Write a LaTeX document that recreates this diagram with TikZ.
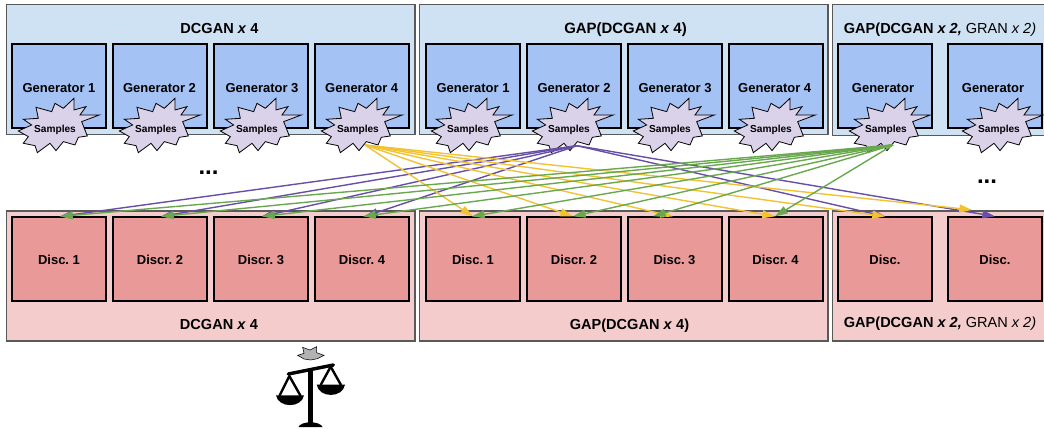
\documentclass[tikz,border=0pt]{standalone}
\usepackage{fontspec}
\setmainfont{Liberation Sans}
\usetikzlibrary{arrows.meta,calc}
\frenchspacing
\definecolor{panelblue}{HTML}{CFE2F3}
\definecolor{genblue}{HTML}{A4C2F4}
\definecolor{panelpink}{HTML}{F4CCCC}
\definecolor{discred}{HTML}{EA9999}
\definecolor{burstlilac}{HTML}{D9D2E9}
\definecolor{edgegray}{HTML}{595959}
\definecolor{linkpurple}{HTML}{674EA7}
\definecolor{linkgold}{HTML}{F1C232}
\definecolor{linkgreen}{HTML}{6AA84F}
\tikzset{
  panelbox/.style={draw=edgegray,line width=0.9pt,inner sep=0pt},
  genbox/.style={draw=black,line width=1.5pt,fill=genblue,minimum width=70.5pt,minimum height=63.2pt,inner sep=0pt},
  discbox/.style={draw=black,line width=1.5pt,fill=discred,minimum width=70.5pt,minimum height=62.7pt,inner sep=0pt},
  boxlabel/.style={font=\bfseries\fontsize{9.75pt}{11pt}\selectfont,anchor=base,inner sep=0pt},
  titlelabel/.style={font=\fontsize{10.9pt}{12pt}\selectfont,anchor=base,inner sep=0pt},
  samplabel/.style={font=\bfseries\fontsize{7.6pt}{9pt}\selectfont,anchor=base,inner sep=0pt},
  dotlabel/.style={font=\bfseries\fontsize{18pt}{20pt}\selectfont,anchor=base,inner sep=0pt},
  link/.style={line width=1.05pt,-{Triangle[length=9.5pt,width=6pt]}},
  burst/.pic={
    \draw[x=.25pt,y=-.25pt,fill=burstlilac,draw=black,line width=0.6pt,line join=miter]
      (133,-40) -- (80,-20) -- (97,23) -- (70,27) -- (60,50) -- (25,40) -- (3,67) -- (-15,45)
      -- (-53,73) -- (-60,52) -- (-95,45) -- (-80,25) -- (-110,8) -- (-70,-10) -- (-95,-27)
      -- (-50,-30) -- (-57,-63) -- (-10,-50) -- (0,-75) -- (25,-60) -- (57,-90) -- (57,-55)
      -- (93,-65) -- (75,-40) -- cycle;
  }
}
\begin{document}
\begin{tikzpicture}[x=.75pt,y=-.75pt]
\useasboundingbox (0,0) rectangle (1044,428);
% panels
\fill[panelblue] (6.7,4.7) rectangle (415,134.3);
\draw[panelbox] (6.7,4.7) rectangle (415,134.3);
\fill[panelblue] (419.3,4.7) rectangle (828,134.3);
\draw[panelbox] (419.3,4.7) rectangle (828,134.3);
\fill[panelblue] (832.7,4.7) rectangle (1050,135.7);
\draw[panelbox] (1050,4.7) -- (832.7,4.7) -- (832.7,135.7) -- (1050,135.7);
\fill[panelpink] (6.7,211) rectangle (415,341);
\draw[panelbox] (6.7,211) rectangle (415,341);
\fill[panelpink] (419.3,211) rectangle (828,341);
\draw[panelbox] (419.3,211) rectangle (828,341);
\fill[panelpink] (832.7,211) rectangle (1050,341);
\draw[panelbox] (1050,211) -- (832.7,211) -- (832.7,341) -- (1050,341);
% titles
\node[titlelabel,font=\bfseries\fontsize{10.9pt}{12pt}\selectfont] (t1) at (219.5,33.2) {DCGAN \textit{x} 4};
\node[titlelabel,font=\bfseries\fontsize{11.2pt}{12pt}\selectfont] (t2) at (625.5,33.2) {GAP(DCGAN \textit{x} 4)};
\node[titlelabel] (t3) at (940,33.2) {\textbf{GAP(DCGAN \textit{x 2,}} GRAN \textit{x 2)}};
\node[titlelabel,font=\bfseries\fontsize{10.9pt}{12pt}\selectfont] (b1) at (219,329) {DCGAN \textit{x} 4};
\node[titlelabel,font=\bfseries\fontsize{10.9pt}{12pt}\selectfont] (b2) at (629.5,329) {GAP(DCGAN \textit{x} 4)};
\node[titlelabel] (b3) at (940,327) {\textbf{GAP(DCGAN \textit{x 2,}} GRAN \textit{x 2)}};
% generators and discriminators
\foreach \n/\x in {1/59,2/160,3/261,4/362,5/473,6/574,7/674.5,8/775.5,9/885,10/995}{
  \node[genbox] (g\n) at (\x,86.2) {};
  \node[discbox] (d\n) at (\x,259.2) {};
}
\foreach \n/\x/\t in {1/59/Generator 1,2/159.5/Generator 2,3/262/Generator 3,4/361.7/Generator 4,5/473/Generator 1,6/574/Generator 2,7/675/Generator 3,8/774.7/Generator 4,9/883/Generator,10/993/Generator}{
  \node[boxlabel] (gl\n) at (\x,92) {\t};
}
\foreach \n/\x/\t in {1/59/Disc. 1,2/160/Discr. 2,3/261/Discr. 3,4/362/Discr. 4,5/473/Disc. 1,6/574/Discr. 2,7/674.5/Disc. 3,8/775.5/Discr. 4,9/885/Disc.,10/995/Disc.}{
  \node[boxlabel] (dl\n) at (\x,264.6) {\t};
}
% sample bursts
\foreach \n/\x in {1/55,2/156,3/257,4/358,5/468,6/569,7/670,8/771,9/886,10/999}{
  \pic at (\x,128.3) {burst};
  \node[samplabel] (s\n) at (\x,132) {Samples};
}
% ellipses
\node[dotlabel] (dots1) at (208.5,174) {...};
\node[dotlabel] (dots2) at (987,183.5) {...};
% connectors
\coordinate (purplesrc) at ($(s6.base)+(8,13.7)$);
\coordinate (goldsrc) at ($(s4.base)+(7,13)$);
\coordinate (greensrc) at ($(s9.base)+(7,13)$);
\foreach \n/\o in {1/1,2/1,3/1,4/3,9/0,10/0}{
  \draw[link,linkpurple] (purplesrc) -- ($(d\n.north)+(\o,0)$);
}
\foreach \n/\o/\h in {5/0/0,6/-1/0,7/-1.5/0,8/-0.5/0,9/0/0,10/-23/-6.5}{
  \draw[link,linkgold] (goldsrc) -- ($(d\n.north)+(\o,\h)$);
}
\foreach \n/\o in {1/1,2/1,3/1,4/1,5/-1,6/-1,7/-21.5,8/-0.5}{
  \draw[link,linkgreen] (greensrc) -- ($(d\n.north)+(\o,0)$);
}
% balance
\begin{scope}[shift={(230,300)},x=.25pt,y=-.25pt]
  \fill[fill=black!30,draw=black,line width=0.4pt]
    (242,180) -- (222,177) -- (203,166) -- (222,160) -- (218,142) -- (240,150) -- (260,140) -- (260,158) -- (282,166) -- (262,176) -- cycle;
  \draw[black,line width=2.6pt,line cap=round] (175,222) -- (310,195);
  \draw[black,line width=3.4pt] (242,212) -- (242,372);
  \fill[black] (205,381) .. controls (215,362) and (268,362) .. (278,381) -- cycle;
  \draw[black,line width=1.8pt,line join=round] (148,288) -- (178,228) -- (212,288);
  \fill[black] (138,286) -- (222,286) .. controls (215,325) and (145,325) .. (138,286) -- cycle;
  \draw[black,line width=1.8pt,line join=round] (272,255) -- (302,200) -- (333,255);
  \fill[black] (260,254) -- (345,254) .. controls (338,295) and (267,295) .. (260,254) -- cycle;
\end{scope}
\end{tikzpicture}
\end{document}
